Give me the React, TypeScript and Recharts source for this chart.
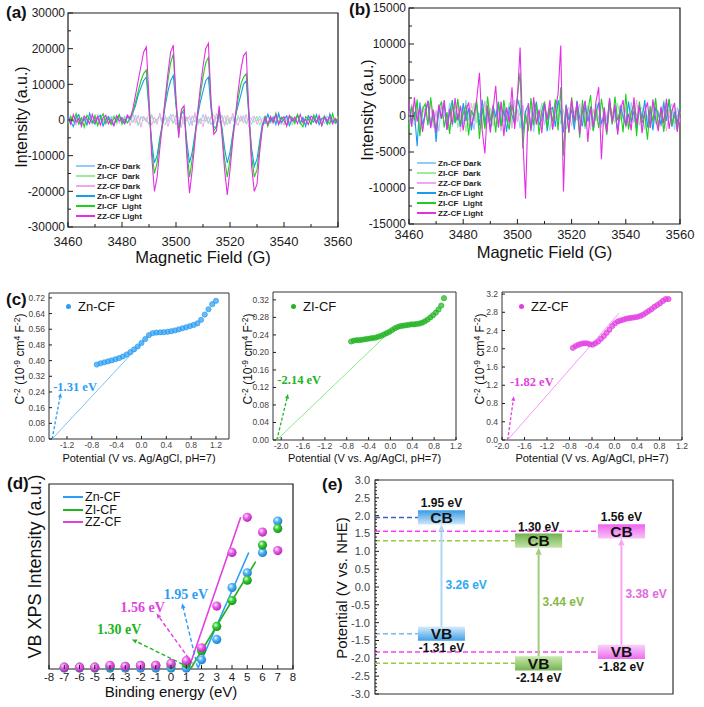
import React from "react";
import {
  ComposedChart,
  LineChart,
  Line,
  Scatter,
  XAxis,
  YAxis,
  Legend,
  ReferenceArea,
  ReferenceLine,
  ReferenceDot,
} from "recharts";

const SANS = "'Liberation Sans', Arial, Helvetica, sans-serif";
const SERIF = "'Liberation Serif', 'Times New Roman', serif";
const INK = "#1c1c1c";

// ---------------- (a) / (b) EPR spectra, intensity in 10^3 a.u. ----------------
const FIELD = [
  3460, 3461, 3462, 3463, 3464, 3465, 3466, 3467, 3468, 3469,
  3470, 3471, 3472, 3473, 3474, 3475, 3476, 3477, 3478, 3479,
  3480, 3481, 3482, 3483, 3484, 3485, 3486, 3487, 3488, 3489,
  3490, 3491, 3492, 3493, 3494, 3495, 3496, 3497, 3498, 3499,
  3500, 3501, 3502, 3503, 3504, 3505, 3506, 3507, 3508, 3509,
  3510, 3511, 3512, 3513, 3514, 3515, 3516, 3517, 3518, 3519,
  3520, 3521, 3522, 3523, 3524, 3525, 3526, 3527, 3528, 3529,
  3530, 3531, 3532, 3533, 3534, 3535, 3536, 3537, 3538, 3539,
  3540, 3541, 3542, 3543, 3544, 3545, 3546, 3547, 3548, 3549,
  3550, 3551, 3552, 3553, 3554, 3555, 3556, 3557, 3558, 3559,
  3560,
];
const FIELD_TICKS = [3460, 3470, 3480, 3490, 3500, 3510, 3520, 3530, 3540, 3550, 3560];
const FIELD_LABELS = [3460, 3480, 3500, 3520, 3540, 3560];

const EPR_NAMES = ["Zn-CF Dark", "ZI-CF  Dark", "ZZ-CF Dark", "Zn-CF Light", "ZI-CF  Light", "ZZ-CF Light"];
const EPR_COLORS = ["#8fcff7", "#9aeb9a", "#f1a6f1", "#169cf0", "#1ed01e", "#e42fe4"];

const A_ZN_DARK = [
  0.6, -1.1, 0.9, -0.4, 1.3, -0.8, 0.2, -1.4, 1.0, -0.5,
  0.7, -1.2, 1.5, -0.3, 0.4, -0.9, 1.1, -1.3, 0.5, 0.8,
  -0.6, 1.2, -1.0, 0.3, -0.7, 1.4, -1.5, 0.6, 0.9, -0.2,
  -1.1, 1.3, -0.8, 0.4, 1.0, -1.4, 0.7, -0.5, 1.6, -0.9,
  0.2, -1.2, 1.1, -0.3, 0.8, -1.6, 1.2, -0.6, 0.5, -1.0,
  1.5, -0.4, 0.9, -1.3, 0.3, 0.7, -0.8, 1.4, -1.1, 0.1,
  -0.5, 1.0, -1.5, 0.6, -0.2, 1.3, -0.7, 0.4, -1.2, 0.8,
  -0.3, 1.1, -0.9, 0.5, 1.4, -1.0, 0.2, -0.6, 1.2, -1.4,
  0.7, 0.3, -0.8, 1.0, -0.4, 1.3, -1.1, 0.6, -0.2, 0.9,
  -1.3, 0.4, 1.1, -0.7, 0.5, -1.0, 1.2, -0.5, 0.8, -1.2,
  0.3,
];
const A_ZI_DARK = [
  -0.9, 1.3, -0.5, 0.8, -1.4, 0.4, 1.0, -0.7, 0.2, -1.2,
  1.5, -0.3, 0.6, -1.0, 1.1, -0.8, 0.3, 1.4, -1.3, 0.5,
  -0.4, 0.9, -1.1, 1.2, -0.6, 0.4, -1.5, 1.0, -0.2, 0.7,
  -1.3, 1.6, -0.9, 0.1, 1.1, -0.7, -1.4, 0.8, 0.3, -1.0,
  1.4, -0.5, 0.6, -1.2, 0.9, 0.2, -0.8, 1.3, -1.6, 0.5,
  -0.3, 1.0, -1.1, 0.7, 1.5, -0.9, 0.4, -0.6, 1.2, -1.4,
  0.8, -0.1, -1.0, 1.3, -0.4, 0.6, -1.2, 0.9, 0.3, -0.7,
  1.1, -1.5, 0.5, 0.8, -1.3, 0.2, 1.0, -0.6, 1.4, -1.1,
  0.4, -0.3, 0.9, -1.5, 0.7, 1.2, -0.8, 0.1, -1.0, 1.3,
  -0.5, 0.6, -1.2, 1.1, -0.2, 0.8, -1.4, 0.5, 0.3, -0.9,
  1.0,
];
const A_ZZ_DARK = [
  0.4, -0.9, 1.2, -1.5, 0.7, -0.2, 1.0, -1.3, 0.5, 0.9,
  -1.1, 1.6, -0.6, 0.3, -1.4, 1.1, -0.8, 0.2, 1.3, -1.0,
  0.6, -0.4, 1.5, -1.7, 1.8, -0.9, 1.4, -2.0, 1.1, -0.6,
  1.9, -1.5, 0.8, -1.2, 2.0, -0.7, 1.3, -1.8, 0.5, 1.6,
  -1.4, 0.9, -2.1, 1.7, -0.3, 1.2, -1.6, 2.1, -1.0, 0.4,
  -1.9, 1.5, -0.8, 1.0, -1.3, 1.8, -0.5, 0.7, -1.7, 1.4,
  -1.1, 1.9, -0.4, -1.5, 1.2, -0.9, 1.6, -2.0, 0.6, 1.1,
  -1.2, 0.3, -0.7, 1.3, -0.8, 0.5, -1.2, 1.0, -0.3, 0.8,
  -1.5, 1.4, -0.6, 0.2, -1.0, 1.2, -0.4, 0.7, -1.3, 0.9,
  -0.1, 1.1, -0.9, 0.4, -1.4, 1.5, -0.5, 0.6, -1.1, 0.3,
  -0.7,
];
const A_ZN_LIGHT = [
  1.2, -0.6, -1.8, 0.7, 1.5, -1.0, 0.4, -1.4, 1.9, -0.3,
  -1.2, 0.8, 1.3, -1.7, 0.1, 1.0, -0.8, -1.5, 0.6, 1.4,
  -0.2, -1.1, 0.9, 0.2, 2, 4, 7, 9, 11, 12,
  3, -6, -12, -10, -5, -1, 4, 8, 11, 12.5,
  4, -3, 2, 2, -6, -12, -9, -4, 1, 5,
  8, 11, 12, 3, -2, -2, 2, -2, -8, -12,
  -9, -4, 1, 4, 7, 10, 11, 1, -8, -13,
  -11, -6, -1, -0.9, 1.6, -0.4, 0.8, -1.3, 1.9, -0.7,
  0.3, 1.1, -1.6, 0.5, -0.2, 1.4, -1.0, 0.7, -1.8, 1.2,
  0.1, -0.6, 1.5, -1.3, 0.4, 0.9, -1.1, 1.7, -0.5, 0.2,
  -1.4,
];
const A_ZI_LIGHT = [
  -1.5, 0.9, -0.4, 1.8, -1.1, 0.6, -2.0, 1.3, 0.2, -0.8,
  1.1, -1.6, 0.5, 1.7, -0.9, 0.4, -1.3, 0.8, -0.5, 1.5,
  -1.2, 0.3, -0.7, 0.3, 2, 5, 8, 11, 13, 14,
  4, -8, -15, -12, -6, -1, 5, 11, 16, 18.5,
  5, -4, 2, 3, -8, -16, -11, -5, 2, 7,
  12, 16, 17.5, 4, -3, -2, 3, -3, -11, -16,
  -11, -5, 1, 6, 10, 12, 13, 2, -10, -16,
  -14, -7, -2, 1.1, -1.8, 0.4, -0.6, 1.9, -1.3, 0.8,
  -0.2, -1.5, 1.2, 0.6, -1.0, 1.6, -0.7, -1.9, 0.9, 0.3,
  -1.2, 1.4, -0.4, 0.7, -1.6, 1.0, -0.3, -1.1, 1.8, -0.8,
  0.5,
];
const A_ZZ_LIGHT = [
  0.8, -1.2, 1.5, -0.6, 0.4, -1.8, 1.1, 0.3, -1.0, 1.6,
  -0.7, 0.9, -1.4, 0.6, 1.3, -1.1, 0.2, -1.6, 1.2, -0.3,
  0.7, -0.9, 1.4, 0.5, 3, 7, 11, 15, 19, 20.5,
  6, -10, -20, -16, -8, -1, 6, 13, 19, 21,
  6, -5, 3, 4, -10, -20.5, -14, -6, 2, 9,
  15, 20, 21.5, 5, -4, -3, 4, -4, -14, -21,
  -14, -6, 1, 8, 14, 18, 19, 2, -13, -20,
  -18, -9, -2, 0.6, -1.3, 1.0, -0.5, 1.5, -1.2, 0.3,
  0.9, -1.7, 1.2, -0.4, 0.8, -1.0, 1.6, -0.8, 0.2, -1.3,
  1.1, 0.5, -0.9, 1.3, -1.5, 0.7, -0.2, 1.0, -1.1, 0.4,
  -0.6,
];

const B_ZN_DARK = [
  -1.2, 0.9, -0.3, 1.6, -1.8, 0.4, 1.1, -0.7, 2.0, -1.4,
  0.6, -2.1, 1.3, 0.2, -0.9, 1.8, -1.5, 0.7, -0.4, 1.4,
  -1.1, 2.2, -0.6, 0.3, -1.9, 1.0, -0.2, 1.7, -1.3, 0.8,
  -2.0, 1.2, 0.5, -1.6, 1.9, -0.8, 0.1, -1.4, 2.1, -0.5,
  0.9, -1.7, 1.5, -1.0, 0.4, 1.3, -2.2, 0.6, -0.3, 1.8,
  -1.2, 0.2, 1.1, -1.9, 0.7, -0.6, 1.6, -1.5, 0.9, -0.1,
  2.0, -1.3, 0.3, -0.8, 1.4, -1.8, 1.0, 0.5, -1.1, 1.7,
  -0.4, -1.6, 1.2, -0.7, 2.1, -1.0, 0.4, -2.0, 1.5, -0.2,
  0.8, -1.4, 1.9, -0.9, 0.3, 1.1, -1.7, 0.6, -0.5, 1.3,
  -1.2, 2.2, -0.8, 0.1, -1.5, 1.6, -0.3, 0.9, -1.9, 1.2,
  -0.6,
];
const B_ZI_DARK = [
  0.7, -1.5, 1.9, -0.4, 1.2, -2.0, 0.3, 1.6, -1.1, 0.8,
  -1.8, 1.4, -0.2, 2.1, -1.3, 0.5, -0.9, 1.7, -1.6, 0.1,
  1.3, -2.2, 0.9, -0.5, 1.8, -1.0, 0.4, -1.7, 2.0, -0.7,
  1.1, -1.4, 0.2, 1.5, -2.1, 0.8, -0.3, 1.9, -1.2, 0.6,
  -0.8, 2.2, -1.5, 0.3, 1.0, -1.9, 1.4, -0.6, 0.7, -1.3,
  1.7, -0.1, -2.0, 1.2, -0.4, 1.6, -1.1, 0.9, -1.8, 0.5,
  1.3, -0.9, 2.1, -1.6, 0.2, -0.7, 1.5, -1.4, 0.8, -0.2,
  1.9, -1.2, 0.4, -2.1, 1.1, 0.6, -1.0, 1.8, -0.5, 1.4,
  -1.7, 0.3, -0.6, 2.0, -1.3, 0.7, 1.2, -1.9, 0.1, -0.8,
  1.6, -1.1, 0.5, -1.5, 2.2, -0.4, 0.9, -1.2, 1.3, -2.0,
  0.6,
];
const B_ZZ_DARK = [
  -0.5, 1.7, -1.3, 0.6, -2.1, 1.4, 0.2, -0.9, 1.9, -1.6,
  0.8, -0.3, 2.0, -1.2, 0.5, -1.8, 1.1, -0.6, 1.5, -2.2,
  0.9, 0.3, -1.4, 1.8, -0.7, 1.2, -1.9, 0.4, 2.1, -1.0,
  -0.2, 1.6, -1.5, 0.7, -2.0, 1.3, -0.4, 1.0, -1.7, 2.2,
  -0.8, 0.5, 1.4, -1.1, 0.2, -1.6, 1.9, -0.9, 0.6, -1.3,
  2.0, -0.5, 1.1, -1.8, 0.8, -0.1, 1.5, -2.1, 0.4, 1.2,
  -1.4, 0.7, -0.6, 1.7, -1.2, 2.1, -0.3, -1.9, 1.0, -0.7,
  1.3, -1.5, 0.9, -0.2, 1.8, -1.0, 0.3, -2.0, 1.6, -0.4,
  1.2, -1.7, 0.6, -0.9, 2.2, -1.3, 0.1, 1.4, -0.8, -1.6,
  1.9, -0.6, 0.8, -1.4, 1.1, -2.1, 0.5, 1.7, -1.1, 0.2,
  -0.9,
];
const B_ZN_LIGHT = [
  1.5, -0.8, 0.6, -4.2, 1.9, -1.2, 0.3, 2.1, -1.6, 0.8,
  -3.6, 1.2, -0.4, 1.7, -1.9, 0.5, 2.2, -1.0, 0.2, -1.5,
  1.8, -0.7, 1.1, -2.0, 0.4, 1.6, -1.3, 2.3, -0.9, 0.6,
  -1.8, 1.4, -0.2, 2.0, -1.4, 0.9, -2.2, 1.3, 0.1, -1.1,
  2.4, 1.0, -2.5, 0.7, 1.5, -1.7, 0.3, 2.0, -1.2, -0.5,
  1.8, -2.1, 0.8, 1.2, -1.5, 2.2, 0.4, -2.3, 1.6, -0.6,
  0.9, -1.9, 2.1, -0.3, -1.4, 1.7, -0.8, 1.3, -2.0, 0.5,
  1.9, -1.1, 0.2, -1.7, 2.3, -0.6, 1.0, -2.2, 1.4, -0.1,
  -1.3, 2.0, -0.9, 0.7, -1.8, 1.5, -0.4, 2.2, -1.6, 0.8,
  -2.0, 1.1, 0.3, -1.2, 1.9, -0.7, 2.4, -1.5, 0.6, -1.0,
  1.6,
];
const B_ZI_LIGHT = [
  -2.0, 1.4, -0.6, 2.3, -2.8, 0.9, 1.7, -1.3, 2.6, -0.4,
  -2.2, 1.1, 2.0, -1.6, 0.5, -2.5, 1.8, -0.9, 2.4, -1.1,
  0.3, 1.5, -2.7, 0.8, -0.2, 2.1, -3.2, 1.2, -1.8, 2.7,
  -0.7, 1.0, -2.3, 1.9, -1.4, 2.2, -0.5, -1.9, 1.6, -1.0,
  2.8, 6.0, -4.5, 0.4, -2.1, 2.5, -1.3, 1.7, -2.6, 0.7,
  2.0, -1.6, 1.3, -0.8, 2.3, -2.0, 4.0, -5.5, 1.5, -2.4,
  2.6, -0.9, 1.2, -3.0, 2.2, -1.5, 0.6, 2.9, -2.1, 1.0,
  -1.7, 2.4, -0.3, -2.6, 1.8, -1.2, 2.7, -0.6, 0.9, -2.3,
  3.1, -1.9, 0.5, 1.6, -2.8, 2.0, -1.0, 0.4, -3.3, 1.4,
  -0.8, 2.5, -1.7, 1.1, -2.2, 0.7, 2.3, -1.3, 0.2, -1.9,
  1.7,
];
const B_ZZ_LIGHT = [
  1.8, -1.5, 2.6, -0.8, 1.2, -2.2, 0.5, 2.1, -1.7, 0.9,
  -2.4, 1.6, -0.3, 2.2, -1.9, 1.0, -1.2, 2.5, -0.6, 1.4,
  -2.0, 0.7, 1.9, -1.4, 0.2, 2.4, 6.0, -2.0, -5.2, 1.5,
  -2.3, 0.8, 4.2, -1.6, 2.0, -2.8, 1.2, -0.9, 4.0, -1.8,
  2.5, 9.5, -3.0, -11.5, 1.8, -2.1, 2.6, -1.2, 0.9, -2.4,
  1.7, -0.5, 2.2, -1.9, 1.1, 3.0, 9.8, -10.5, 1.4, -2.2,
  2.4, -0.7, 1.9, -2.5, 0.6, 2.1, -3.6, 1.3, -1.5, 2.0,
  4.0, -6.0, 1.2, -2.3, 2.5, -0.9, 1.6, -2.6, 0.8, 2.2,
  -1.4, 0.3, -2.0, 2.6, -1.1, 1.5, -2.4, 0.6, 1.9, -1.7,
  2.3, -0.4, -2.1, 1.3, -1.0, 2.4, -1.8, 0.7, 1.8, -2.2,
  1.1,
];

const A_TICKS = [-30000, -25000, -20000, -15000, -10000, -5000, 0, 5000, 10000, 15000, 20000, 25000, 30000];
const A_LABELS = [-30000, -20000, -10000, 0, 10000, 20000, 30000];
const B_TICKS = [-15000, -12500, -10000, -7500, -5000, -2500, 0, 2500, 5000, 7500, 10000, 12500, 15000];
const B_LABELS = [-15000, -10000, -5000, 0, 5000, 10000, 15000];

// ---------------- (c) Mott-Schottky ----------------
const ZN_POT = [-0.72, -0.66, -0.6, -0.54, -0.48, -0.42, -0.36, -0.3, -0.24, -0.18, -0.12, -0.06, 0.0, 0.06, 0.12, 0.18, 0.24, 0.3, 0.36, 0.42, 0.48, 0.54, 0.6, 0.66, 0.72, 0.78, 0.84, 0.9, 0.96, 1.02, 1.08, 1.14, 1.2];
const ZN_C2 = [0.38, 0.386, 0.391, 0.396, 0.401, 0.407, 0.413, 0.421, 0.431, 0.443, 0.457, 0.472, 0.49, 0.51, 0.53, 0.54, 0.543, 0.544, 0.545, 0.547, 0.55, 0.554, 0.559, 0.565, 0.57, 0.576, 0.582, 0.59, 0.608, 0.635, 0.662, 0.688, 0.705];
const ZI_POT = [-0.72, -0.67, -0.62, -0.57, -0.52, -0.47, -0.42, -0.37, -0.32, -0.27, -0.22, -0.17, -0.12, -0.07, -0.02, 0.03, 0.08, 0.13, 0.18, 0.23, 0.28, 0.33, 0.38, 0.43, 0.48, 0.53, 0.58, 0.63, 0.68, 0.73, 0.78, 0.83, 0.88, 0.93, 0.98];
const ZI_C2 = [0.225, 0.227, 0.228, 0.228, 0.229, 0.23, 0.231, 0.232, 0.233, 0.234, 0.236, 0.238, 0.241, 0.244, 0.247, 0.251, 0.255, 0.258, 0.26, 0.261, 0.262, 0.263, 0.264, 0.264, 0.265, 0.266, 0.268, 0.271, 0.275, 0.28, 0.285, 0.291, 0.298, 0.307, 0.324];
const ZZ_POT = [-0.74, -0.69, -0.64, -0.59, -0.54, -0.49, -0.44, -0.39, -0.34, -0.29, -0.24, -0.19, -0.14, -0.09, -0.04, 0.01, 0.06, 0.11, 0.16, 0.21, 0.26, 0.31, 0.36, 0.41, 0.46, 0.51, 0.56, 0.61, 0.66, 0.71, 0.76, 0.81, 0.86, 0.91, 0.96];
const ZZ_C2 = [2.02, 2.06, 2.09, 2.11, 2.12, 2.12, 2.1, 2.09, 2.12, 2.16, 2.22, 2.28, 2.35, 2.42, 2.5, 2.56, 2.6, 2.62, 2.64, 2.66, 2.67, 2.68, 2.69, 2.7, 2.72, 2.75, 2.79, 2.83, 2.87, 2.92, 2.96, 3.0, 3.05, 3.09, 3.09];
const FB_LABELS = ["-1.31 eV", "-2.14 eV", "-1.82 eV"];
// fitted line as drawn: [x-intercept, end x, end y]; dashed arrow tip [x, y]
const MS_FIT = [[-1.44, 0.12, 0.53], [-2.08, 0.02, 0.251], [-1.9, 0.08, 2.78]];
const MS_TIP = [[-1.3, 0.235], [-1.875, 0.105], [-1.79, 0.96]];
const MS_LABEL_AT = [[-1.07, 0.27], [-1.67, 0.137], [-1.47, 1.29]];

const C1_X = [-1.2, -0.8, -0.4, 0, 0.4, 0.8, 1.2];
const C2_X = [-2.0, -1.6, -1.2, -0.8, -0.4, 0, 0.4, 0.8, 1.2];
const C1_Y = [0, 0.08, 0.16, 0.24, 0.32, 0.4, 0.48, 0.56, 0.64, 0.72];
const C2_Y = [0, 0.04, 0.08, 0.12, 0.16, 0.2, 0.24, 0.28, 0.32];
const C3_Y = [0, 0.4, 0.8, 1.2, 1.6, 2.0, 2.4, 2.8, 3.2];

// ---------------- (d) VB XPS ----------------
const BE = [-7, -6, -5, -4, -3, -2, -1, 0, 1, 2, 3, 4, 5, 6, 7];
const BE_TICKS = [-8, -7, -6, -5, -4, -3, -2, -1, 0, 1, 2, 3, 4, 5, 6, 7, 8];
const VB_ZN = [0.5, 0.5, 0.5, 0.5, 0.5, 0.5, 0.5, 0.5, 0.5, 5, 16, 44, 52, 63, 80];
const VB_ZI = [1, 1, 1, 1.5, 1.5, 2, 2, 2.5, 3, 10, 23, 37, 48, 67, 76];
const VB_ZZ = [1, 1, 1, 2, 1.5, 2, 2, 3, 4.5, 11.5, 34, 63, 82, 74, 64];
const VB_ONSET = ["1.95 eV", "1.30 eV", "1.56 eV"];
// fit lines [x0, y0, x1, y1], dashed arrows [from x, from y, tip x, tip y], label centres
const VB_FIT = [[1.75, 0, 5.1, 63], [1.28, 0, 5.55, 58], [1.15, 0, 4.57, 82]];
const VB_ARROW = [[1.74, 1, 0.73, 35.5], [1.15, 1, -2.56, 16], [1.4, 3, -0.95, 30]];
const VB_LABEL_AT = [[0.98, 40.5], [-3.4, 21.5], [-1.85, 33.5]];

// ---------------- (e) band structure ----------------
const BAND_NAMES = ["Zn-CF", "ZI-CF", "ZZ-CF"];
const CB = [1.95, 1.3, 1.56];
const VB = [-1.31, -2.14, -1.82];
const GAP = [3.26, 3.44, 3.38];
const E_TICKS = [
  -3, -2.9, -2.8, -2.7, -2.6, -2.5, -2.4, -2.3, -2.2, -2.1,
  -2, -1.9, -1.8, -1.7, -1.6, -1.5, -1.4, -1.3, -1.2, -1.1,
  -1, -0.9, -0.8, -0.7, -0.6, -0.5, -0.4, -0.3, -0.2, -0.1,
  0, 0.1, 0.2, 0.3, 0.4, 0.5, 0.6, 0.7, 0.8, 0.9,
  1, 1.1, 1.2, 1.3, 1.4, 1.5, 1.6, 1.7, 1.8, 1.9,
  2, 2.1, 2.2, 2.3, 2.4, 2.5, 2.6, 2.7, 2.8, 2.9, 3,
];
const E_LABELS = [-3, -2.5, -2, -1.5, -1, -0.5, 0, 0.5, 1, 1.5, 2, 2.5, 3];

const SAMPLE_COLORS = ["#2a9df4", "#22b322", "#e23fe2"];
const MS_LINE = ["#7cc2f4", "#8be98b", "#f29af2"];
const BAND_DASH_CB = ["#3b5fc4", "#9acb45", "#ff3cf2"];
const BAND_DASH_VB = ["#7fb6e6", "#9acb45", "#ff3cf2"];
const BAND_ARROW = ["#acd8f6", "#9fce7c", "#f6a4f6"];
const BAND_GAP_TEXT = ["#2eaaf0", "#86b947", "#de6cde"];
// layout of the band columns on a 0..100 x range
const COL_X = [22.3, 54.9, 82.7];
const BOX_W = 7.9;
const BOX_H = 0.2;
const GAP_LABEL_Y = [0.05, -0.4, -0.2];

// ---------------- helpers ----------------
const near = (a: number, list: number[]) => list.some((b) => Math.abs(a - b) < 1e-6);

const bottomTick = (o: any) => (p: any) => {
  const v = p.payload.value;
  const major = !o.labels || near(v, o.labels);
  const ay = p.y - o.gap;
  const len = major ? o.len : o.minor;
  return (
    <g>
      <line x1={p.x} x2={p.x} y1={ay} y2={ay - len} stroke={INK} strokeWidth={1} />
      {major && (
        <text x={p.x} y={p.y} dy="0.71em" textAnchor="middle" fontSize={o.size} fontFamily={SANS} fill={o.color}>
          {o.fmt ? o.fmt(v) : String(v)}
        </text>
      )}
    </g>
  );
};

const leftTick = (o: any) => (p: any) => {
  const v = p.payload.value;
  const major = !o.labels || near(v, o.labels);
  const ax = p.x + o.gap;
  const len = major ? o.len : o.minor;
  return (
    <g>
      <line x1={ax} x2={ax + len} y1={p.y} y2={p.y} stroke={INK} strokeWidth={1} />
      {major && (
        <text x={p.x} y={p.y} dy="0.35em" textAnchor="end" fontSize={o.size} fontFamily={SANS} fill={o.color}>
          {o.fmt ? o.fmt(v) : String(v)}
        </text>
      )}
    </g>
  );
};

const xTitle = (text: string, dy: number, size: number) => (p: any) => {
  const vb = p.viewBox || {};
  return (
    <text x={vb.x + vb.width / 2} y={vb.y + dy} textAnchor="middle" fontSize={size} fontFamily={SANS} fill="#111">
      {text}
    </text>
  );
};

// dx = horizontal centre of the rotated title, measured from the axis box's left edge
const yTitle = (content: any, dx: number, dy: number, size: number) => (p: any) => {
  const vb = p.viewBox || {};
  const cx = vb.x + dx + size * 0.35;
  const cy = vb.y + vb.height / 2 + dy;
  return (
    <text x={cx} y={cy} transform={`rotate(-90 ${cx} ${cy})`} textAnchor="middle" fontSize={size} fontFamily={SANS} fill="#111">
      {content}
    </text>
  );
};

const arrowShape = (color: string, dash: string | undefined, w: number, head: number) => (p: any) => {
  const { x1, y1, x2, y2 } = p;
  const a = Math.atan2(y2 - y1, x2 - x1);
  const hx = x2 - head * Math.cos(a);
  const hy = y2 - head * Math.sin(a);
  const px = Math.sin(a) * head * 0.45;
  const py = -Math.cos(a) * head * 0.45;
  return (
    <g>
      <line x1={x1} y1={y1} x2={hx} y2={hy} stroke={color} strokeWidth={w} strokeDasharray={dash} />
      <polygon points={`${x2},${y2} ${hx + px},${hy + py} ${hx - px},${hy - py}`} fill={color} />
    </g>
  );
};

const eprLegend = () => (
  <div style={{ fontFamily: SANS, fontSize: 8, fontWeight: 700, color: "#222" }}>
    {EPR_NAMES.map((n, k) => (
      <div key={n} style={{ display: "flex", alignItems: "center", height: 10, whiteSpace: "pre" }}>
        <span style={{ display: "inline-block", width: 19, height: 1.8, background: EPR_COLORS[k], marginRight: 2 }} />
        {n}
      </div>
    ))}
  </div>
);

// ---------------- (a)/(b) ----------------
function EprChart(p: any) {
  const rows = FIELD.map((g, i) => {
    const r: any = { g };
    p.series.forEach((s: number[], k: number) => {
      r["s" + k] = s[i] * 1000;
    });
    return r;
  });
  const lo = p.yTicks[0];
  const hi = p.yTicks[p.yTicks.length - 1];
  return (
    <LineChart width={p.width} height={p.height} data={rows} margin={{ top: p.top, right: p.right, bottom: 0, left: 0 }}>
      <XAxis
        dataKey="g"
        type="number"
        domain={[3460, 3560]}
        ticks={FIELD_TICKS}
        interval={0}
        height={p.xHeight}
        axisLine={false}
        tickLine={false}
        tickSize={0}
        tickMargin={p.xGap}
        tick={bottomTick({ gap: p.xGap, labels: FIELD_LABELS, len: 5, minor: 3, size: 13, color: INK })}
        label={xTitle("Magnetic Field (G)", p.xTitleDy, 16.5)}
      />
      <YAxis
        type="number"
        domain={[lo, hi]}
        ticks={p.yTicks}
        interval={0}
        width={p.yWidth}
        axisLine={false}
        tickLine={false}
        tickSize={0}
        tickMargin={p.yGap}
        tick={leftTick({ gap: p.yGap, labels: p.yLabels, len: 5, minor: 3, size: 12, color: INK })}
        label={yTitle("Intensity (a.u.)", p.titleDx, p.titleDy, 16)}
      />
      {EPR_NAMES.map((n, k) => (
        <Line
          key={n}
          type="linear"
          dataKey={"s" + k}
          name={n}
          stroke={EPR_COLORS[k]}
          strokeWidth={k < 3 ? 1 : 1.1}
          dot={false}
          activeDot={false}
          isAnimationActive={false}
        />
      ))}
      <ReferenceArea x1={3460} x2={3560} y1={lo} y2={hi} fill="none" fillOpacity={0} stroke={INK} strokeWidth={1.2} ifOverflow="visible" />
      <Legend
        layout="vertical"
        align="center"
        verticalAlign="middle"
        wrapperStyle={{ left: p.legendLeft, top: p.legendTop, width: "auto" }}
        content={eprLegend}
      />
    </LineChart>
  );
}

// ---------------- (c) ----------------
const c2Title = (
  <>
    <tspan>C</tspan>
    <tspan dy={-4.5} fontSize={8.5}>-2</tspan>
    <tspan dy={4.5}> (10</tspan>
    <tspan dy={-4.5} fontSize={8.5}>-9</tspan>
    <tspan dy={4.5}> cm</tspan>
    <tspan dy={-4.5} fontSize={8.5}>4</tspan>
    <tspan dy={4.5}> F</tspan>
    <tspan dy={-4.5} fontSize={8.5}>-2</tspan>
    <tspan dy={4.5}>)</tspan>
  </>
);

const mottLegend = (k: number) => () => (
  <div style={{ fontFamily: SANS, fontSize: 13, color: "#111" }}>
    <div style={{ display: "flex", alignItems: "center", height: 14 }}>
      <span style={{ display: "inline-block", width: 5, height: 5, borderRadius: 3, background: SAMPLE_COLORS[k], marginRight: 7 }} />
      {BAND_NAMES[k]}
    </div>
  </div>
);

function MottChart(p: any) {
  const i = p.idx;
  const pts = p.x.map((v: number, k: number) => ({ v, c: p.y[k] }));
  const [x0, x1] = p.xDomain;
  const [y0, y1] = p.yDomain;
  const fit = MS_FIT[i];
  const tip = MS_TIP[i];
  const at = MS_LABEL_AT[i];
  const color = SAMPLE_COLORS[i];
  return (
    <ComposedChart width={p.width} height={185} margin={{ top: p.top, right: p.right, bottom: 0, left: 0 }}>
      <XAxis
        dataKey="v"
        type="number"
        domain={p.xDomain}
        ticks={p.xTicks}
        interval={0}
        height={185 - p.top - p.plotH}
        axisLine={false}
        tickLine={false}
        tickSize={0}
        tickMargin={3}
        tick={bottomTick({ gap: 3, len: 3, minor: 3, size: 8.5, color: "#444", fmt: (v: number) => v.toFixed(1) })}
        label={xTitle("Potential (V vs. Ag/AgCl, pH=7)", p.xTitleDy, 11)}
      />
      <YAxis
        dataKey="c"
        type="number"
        domain={p.yDomain}
        ticks={p.yTicks}
        interval={0}
        width={p.yWidth}
        axisLine={false}
        tickLine={false}
        tickSize={0}
        tickMargin={4}
        tick={leftTick({ gap: 4, len: 3, minor: 3, size: 8.5, color: "#444", fmt: (v: number) => v.toFixed(p.digits) })}
        label={yTitle(c2Title, p.titleDx, -7, 12)}
      />
      <ReferenceArea x1={x0} x2={x1} y1={y0} y2={y1} fill="none" fillOpacity={0} stroke="#333" strokeWidth={1} ifOverflow="visible" />
      <ReferenceLine
        segment={[{ x: fit[0], y: 0 }, { x: fit[1], y: fit[2] }]}
        stroke={MS_LINE[i]}
        strokeWidth={1}
        ifOverflow="visible"
      />
      <ReferenceLine
        segment={[{ x: fit[0], y: 0 }, { x: tip[0], y: tip[1] }]}
        ifOverflow="visible"
        shape={arrowShape(color, "3 2", 1.3, 4.5)}
      />
      <Scatter
        name={BAND_NAMES[i]}
        data={pts}
        fill={color}
        isAnimationActive={false}
        shape={(s: any) => <circle cx={s.cx} cy={s.cy} r={2.6} fill={color} fillOpacity={0.7} stroke={color} strokeWidth={0.7} />}
      />
      <ReferenceDot
        x={at[0]}
        y={at[1]}
        r={0}
        ifOverflow="visible"
        label={{ value: FB_LABELS[i], position: "center", fill: color, fontSize: 12.5, fontWeight: 700, fontFamily: SERIF }}
      />
      <Legend
        layout="vertical"
        align="center"
        verticalAlign="middle"
        wrapperStyle={{ left: p.legendLeft, top: 19, width: "auto" }}
        content={mottLegend(i)}
      />
    </ComposedChart>
  );
}

// ---------------- (d) ----------------
const vbLegend = () => (
  <div style={{ fontFamily: SANS, fontSize: 12.5, color: "#111" }}>
    {BAND_NAMES.map((n, k) => (
      <div key={n} style={{ display: "flex", alignItems: "center", height: 12.5 }}>
        <span style={{ display: "inline-block", width: 20, height: 2, background: SAMPLE_COLORS[k], marginRight: 2 }} />
        {n}
      </div>
    ))}
  </div>
);

const BALL_STOPS = [
  ["#e9f6ff", "#4fb4f5", "#1a78c8"],
  ["#eaffea", "#37cc37", "#118e11"],
  ["#ffeaff", "#ea62ea", "#b21fb2"],
];

function VbChart() {
  const sets = [VB_ZN, VB_ZI, VB_ZZ];
  return (
    <ComposedChart width={352} height={237} margin={{ top: 14, right: 59, bottom: 0, left: 0 }}>
      <defs>
        {BALL_STOPS.map((s, k) => (
          <radialGradient key={k} id={`ball${k}`} cx="0.38" cy="0.35" r="0.7">
            <stop offset="0" stopColor={s[0]} />
            <stop offset="0.4" stopColor={s[1]} />
            <stop offset="1" stopColor={s[2]} />
          </radialGradient>
        ))}
      </defs>
      <XAxis
        dataKey="e"
        type="number"
        domain={[-8, 8]}
        ticks={BE_TICKS}
        interval={0}
        height={38}
        axisLine={false}
        tickLine={false}
        tickSize={0}
        tickMargin={4}
        tick={bottomTick({ gap: 4, len: 4, minor: 4, size: 11.5, color: INK })}
        label={xTitle("Binding energy (eV)", 28, 15)}
      />
      <YAxis
        dataKey="i"
        type="number"
        domain={[0, 100]}
        width={49}
        tick={false}
        axisLine={false}
        tickLine={false}
        label={yTitle("VB XPS Intensity (a.u.)", 35, -10, 18)}
      />
      <ReferenceArea x1={-8} x2={8} y1={0} y2={100} fill="none" fillOpacity={0} stroke={INK} strokeWidth={1.2} ifOverflow="visible" />
      {VB_FIT.map((f, k) => (
        <ReferenceLine
          key={"fit" + k}
          segment={[{ x: f[0], y: f[1] }, { x: f[2], y: f[3] }]}
          stroke={SAMPLE_COLORS[k]}
          strokeWidth={1.6}
          ifOverflow="visible"
        />
      ))}
      {VB_ARROW.map((a, k) => (
        <ReferenceLine
          key={"arr" + k}
          segment={[{ x: a[0], y: a[1] }, { x: a[2], y: a[3] }]}
          ifOverflow="visible"
          shape={arrowShape(SAMPLE_COLORS[k], "4 2.5", 1.4, 5)}
        />
      ))}
      {sets.map((s, k) => (
        <Scatter
          key={BAND_NAMES[k]}
          name={BAND_NAMES[k]}
          data={BE.map((e, j) => ({ e, i: s[j] }))}
          fill={SAMPLE_COLORS[k]}
          isAnimationActive={false}
          shape={(d: any) => <circle cx={d.cx} cy={d.cy} r={4.6} fill={`url(#ball${k})`} />}
        />
      ))}
      {VB_LABEL_AT.map((a, k) => (
        <ReferenceDot
          key={"lab" + k}
          x={a[0]}
          y={a[1]}
          r={0}
          ifOverflow="visible"
          label={{ value: VB_ONSET[k], position: "center", fill: SAMPLE_COLORS[k], fontSize: 14, fontWeight: 700, fontFamily: SERIF }}
        />
      ))}
      <Legend layout="vertical" align="center" verticalAlign="middle" wrapperStyle={{ left: 63, top: 21, width: "auto" }} content={vbLegend} />
    </ComposedChart>
  );
}

// ---------------- (e) ----------------
const BOX_GRAD = [
  { cb: ["#3a9be4", "#cfe8fa"], vb: ["#d6ecfb", "#3f9fe6"] },
  { cb: ["#6fb24e", "#c4e3a8"], vb: ["#cbe8b0", "#74b653"] },
  { cb: ["#ee62ee", "#f8c2f8"], vb: ["#fad0fa", "#ef6cef"] },
];

function BandChart() {
  const rows = BAND_NAMES.map((n, k) => ({ n, x: COL_X[k], cb: CB[k], vb: VB[k] }));
  const boxLabel = (v: string) => ({ value: v, position: "center" as const, fill: "#111", fontSize: 15.5, fontWeight: 700, fontFamily: SANS });
  return (
    <ComposedChart width={374} height={237} data={rows} margin={{ top: 10, right: 31, bottom: 13, left: 0 }}>
      <defs>
        {BOX_GRAD.map((g, k) => (
          <React.Fragment key={k}>
            <linearGradient id={`cbg${k}`} x1="0" y1="0" x2="0" y2="1">
              <stop offset="0" stopColor={g.cb[0]} />
              <stop offset="1" stopColor={g.cb[1]} />
            </linearGradient>
            <linearGradient id={`vbg${k}`} x1="0" y1="0" x2="0" y2="1">
              <stop offset="0" stopColor={g.vb[0]} />
              <stop offset="1" stopColor={g.vb[1]} />
            </linearGradient>
          </React.Fragment>
        ))}
      </defs>
      <XAxis dataKey="x" type="number" domain={[0, 100]} hide />
      <YAxis
        type="number"
        domain={[-3, 3]}
        ticks={E_TICKS}
        interval={0}
        width={45}
        axisLine={false}
        tickLine={false}
        tickSize={0}
        tickMargin={5}
        tick={leftTick({ gap: 5, labels: E_LABELS, len: 4, minor: 2, size: 11, color: "#444", fmt: (v: number) => v.toFixed(1) })}
        label={yTitle("Potential (V vs. NHE)", 12, 1, 15)}
      />
      {/* band edges as (invisible) series, so the chart has data on its scales */}
      <Line dataKey="cb" name="CB" stroke="none" dot={false} activeDot={false} legendType="none" isAnimationActive={false} />
      <Line dataKey="vb" name="VB" stroke="none" dot={false} activeDot={false} legendType="none" isAnimationActive={false} />
      <ReferenceArea x1={0} x2={100} y1={-3} y2={3} fill="none" fillOpacity={0} stroke="#333" strokeWidth={1.2} ifOverflow="visible" />
      {BAND_NAMES.map((n, k) => (
        <ReferenceLine
          key={"dc" + k}
          segment={[{ x: 0, y: CB[k] }, { x: COL_X[k] - BOX_W, y: CB[k] }]}
          stroke={BAND_DASH_CB[k]}
          strokeWidth={1.5}
          strokeDasharray="5 3"
          ifOverflow="visible"
        />
      ))}
      {BAND_NAMES.map((n, k) => (
        <ReferenceLine
          key={"dv" + k}
          segment={[{ x: 0, y: VB[k] }, { x: COL_X[k] - BOX_W, y: VB[k] }]}
          stroke={BAND_DASH_VB[k]}
          strokeWidth={1.5}
          strokeDasharray="5 3"
          ifOverflow="visible"
        />
      ))}
      {BAND_NAMES.map((n, k) => (
        <ReferenceLine
          key={"ar" + k}
          segment={[{ x: COL_X[k], y: VB[k] + BOX_H }, { x: COL_X[k], y: CB[k] - BOX_H }]}
          ifOverflow="visible"
          shape={arrowShape(BAND_ARROW[k], undefined, 2, 7)}
        />
      ))}
      {BAND_NAMES.map((n, k) => (
        <ReferenceArea
          key={"cb" + k}
          x1={COL_X[k] - BOX_W}
          x2={COL_X[k] + BOX_W}
          y1={CB[k] - BOX_H}
          y2={CB[k] + BOX_H}
          fill={`url(#cbg${k})`}
          fillOpacity={1}
          ifOverflow="visible"
          label={boxLabel("CB")}
        />
      ))}
      {BAND_NAMES.map((n, k) => (
        <ReferenceArea
          key={"vb" + k}
          x1={COL_X[k] - BOX_W}
          x2={COL_X[k] + BOX_W}
          y1={VB[k] - BOX_H}
          y2={VB[k] + BOX_H}
          fill={`url(#vbg${k})`}
          fillOpacity={1}
          ifOverflow="visible"
          label={boxLabel("VB")}
        />
      ))}
      {BAND_NAMES.map((n, k) => (
        <ReferenceArea
          key={"cbt" + k}
          x1={COL_X[k] - BOX_W}
          x2={COL_X[k] + BOX_W}
          y1={CB[k] - BOX_H}
          y2={CB[k] + BOX_H}
          fill="none"
          fillOpacity={0}
          ifOverflow="visible"
          label={{ value: `${CB[k].toFixed(2)} eV`, position: "top", offset: 3, fill: "#111", fontSize: 12, fontWeight: 700, fontFamily: SANS }}
        />
      ))}
      {BAND_NAMES.map((n, k) => (
        <ReferenceArea
          key={"vbt" + k}
          x1={COL_X[k] - BOX_W}
          x2={COL_X[k] + BOX_W}
          y1={VB[k] - BOX_H}
          y2={VB[k] + BOX_H}
          fill="none"
          fillOpacity={0}
          ifOverflow="visible"
          label={{ value: `${VB[k].toFixed(2)} eV`, position: "bottom", offset: 3, fill: "#111", fontSize: 12, fontWeight: 700, fontFamily: SANS }}
        />
      ))}
      {BAND_NAMES.map((n, k) => (
        <ReferenceDot
          key={"gap" + k}
          x={COL_X[k]}
          y={GAP_LABEL_Y[k]}
          r={0}
          ifOverflow="visible"
          label={{ value: `${GAP[k].toFixed(2)} eV`, position: "right", offset: 4, fill: BAND_GAP_TEXT[k], fontSize: 12, fontWeight: 700, fontFamily: SANS }}
        />
      ))}
    </ComposedChart>
  );
}

const panelLabel = (text: string, left: number, top: number) => (
  <div style={{ position: "absolute", left, top, fontFamily: SANS, fontWeight: 700, fontSize: 17, lineHeight: "20px", color: "#111" }}>
    {text}
  </div>
);

export default function App() {
  return (
    <div style={{ position: "absolute", left: 0, top: 0, width: 704, height: 707, background: "#fff", overflow: "hidden" }}>
      <div style={{ position: "absolute", left: 0, top: 0 }}>
        <EprChart
          series={[A_ZN_DARK, A_ZI_DARK, A_ZZ_DARK, A_ZN_LIGHT, A_ZI_LIGHT, A_ZZ_LIGHT]}
          yTicks={A_TICKS}
          yLabels={A_LABELS}
          width={352}
          height={270}
          top={13}
          right={14}
          yWidth={68}
          xHeight={43}
          xGap={10}
          yGap={3}
          titleDx={21}
          titleDy={-3}
          xTitleDy={36}
          legendLeft={76}
          legendTop={161}
        />
      </div>
      <div style={{ position: "absolute", left: 352, top: 0 }}>
        <EprChart
          series={[B_ZN_DARK, B_ZI_DARK, B_ZZ_DARK, B_ZN_LIGHT, B_ZI_LIGHT, B_ZZ_LIGHT]}
          yTicks={B_TICKS}
          yLabels={B_LABELS}
          width={352}
          height={265}
          top={8}
          right={24}
          yWidth={57}
          xHeight={41}
          xGap={6}
          yGap={3}
          titleDx={15}
          titleDy={-6}
          xTitleDy={34}
          legendLeft={65}
          legendTop={158}
        />
      </div>
      <div style={{ position: "absolute", left: 0, top: 280 }}>
        <MottChart idx={0} x={ZN_POT} y={ZN_C2} width={240} top={13} right={11} plotH={146} yWidth={49}
          xDomain={[-1.49, 1.41]} xTicks={C1_X} yDomain={[0, 0.745]} yTicks={C1_Y} digits={2}
          titleDx={20} xTitleDy={23} legendLeft={66} />
      </div>
      <div style={{ position: "absolute", left: 232, top: 280 }}>
        <MottChart idx={1} x={ZI_POT} y={ZI_C2} width={235} top={12} right={11} plotH={148} yWidth={41}
          xDomain={[-2.15, 1.2]} xTicks={C2_X} yDomain={[0, 0.338]} yTicks={C2_Y} digits={2}
          titleDx={16} xTitleDy={22} legendLeft={59} />
      </div>
      <div style={{ position: "absolute", left: 467, top: 280 }}>
        <MottChart idx={2} x={ZZ_POT} y={ZZ_C2} width={237} top={12} right={22} plotH={148} yWidth={35}
          xDomain={[-2.0, 1.2]} xTicks={C2_X} yDomain={[0, 3.245]} yTicks={C3_Y} digits={1}
          titleDx={13} xTitleDy={22} legendLeft={52} />
      </div>
      <div style={{ position: "absolute", left: 0, top: 470 }}>
        <VbChart />
      </div>
      <div style={{ position: "absolute", left: 330, top: 470 }}>
        <BandChart />
      </div>
      {panelLabel("(a)", 6, 3)}
      {panelLabel("(b)", 349, 0)}
      {panelLabel("(c)", 6, 290)}
      {panelLabel("(d)", 7, 474)}
      {panelLabel("(e)", 322, 475)}
    </div>
  );
}
